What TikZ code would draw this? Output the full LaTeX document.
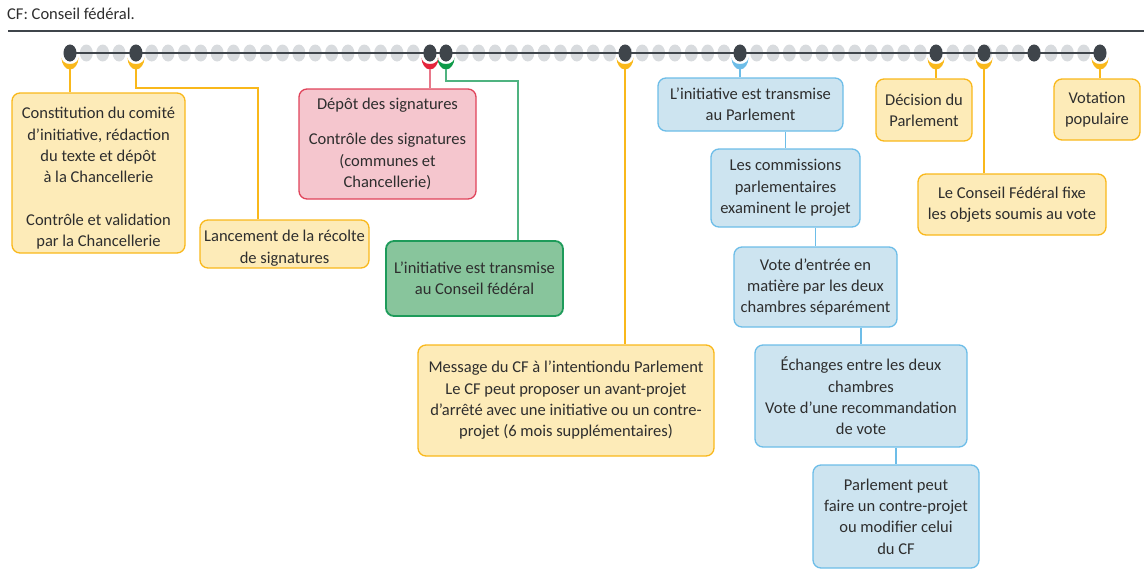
\documentclass[tikz,border=0pt]{standalone}
\usepackage{fontspec}
\setmainfont{Carlito}
\definecolor{txt}{HTML}{2E2E2E}
\definecolor{dark}{HTML}{3F454B}
\definecolor{grayd}{HTML}{D8DBDE}
\definecolor{yb}{HTML}{F9B81B}
\definecolor{yf}{HTML}{FDEBB8}
\definecolor{rb}{HTML}{E0435A}
\definecolor{rc}{HTML}{E5243B}
\definecolor{rl}{HTML}{E8788A}
\definecolor{rf}{HTML}{F5C6CE}
\definecolor{gb}{HTML}{1E9B5A}
\definecolor{gc}{HTML}{0E9A48}
\definecolor{gl}{HTML}{4FB380}
\definecolor{gf}{HTML}{88C59C}
\definecolor{bb}{HTML}{6DBDE8}
\definecolor{bf}{HTML}{CDE4F0}
\newcommand\crescent[2]{\fill[#2] (#1) ++(-8.5,-4.5) arc[start angle=180,end angle=360,x radius=8.5,y radius=12] arc[start angle=0,end angle=-180,x radius=8.5,y radius=6.5] -- cycle;}
\begin{document}
\begin{tikzpicture}[x=1pt,y=1pt,
  box/.style={rounded corners=8pt,line width=1.3pt,align=center,inner sep=0pt,text=txt,
    font=\fontsize{16.5}{21.3}\selectfont},
  ybox/.style={box,draw=yb,fill=yf},
  rbox/.style={box,draw=rb,fill=rf},
  gbox/.style={box,draw=gb,fill=gf,line width=1.8pt},
  bbox/.style={box,draw=bb,fill=bf},
  yconn/.style={draw=yb,line width=1.6pt},
  rconn/.style={draw=rl,line width=1.6pt},
  gconn/.style={draw=gl,line width=1.6pt},
  bconn/.style={draw=bb,line width=1.6pt},
  ]
\useasboundingbox (0,0) rectangle (1144,-579);
% header
\node[anchor=base west,inner sep=0pt,text=txt,font=\fontsize{16.5}{20}\selectfont] (hdr) at (7,-19) {CF: Conseil fédéral.};
\draw[dark,line width=1.2pt] (8,-31) -- (1144,-31);
% timeline dots
\foreach \i in {0,...,63}
  \fill[grayd] ({70+\i*16.3492},-53) ellipse[x radius=6.5,y radius=8.5];
\coordinate (tl0) at (70,-53);
\coordinate (tl1) at (1100,-53);
\draw[dark,line width=1.4pt] (tl0) -- (tl1);
\foreach \n/\x in {d0/70,d4/136,d22/430,d23/446,d34/625,d41/740,d53/936,d56/984,d59/1034,d63/1100}{
  \coordinate (\n) at (\x,-53);
  \fill[dark] (\n) ellipse[x radius=6.5,y radius=8.5];
  \coordinate (k\n) at (\x,-69);
}
\crescent{d0}{yb}
\crescent{d4}{yb}
\crescent{d22}{rc}
\crescent{d23}{gc}
\crescent{d34}{yb}
\crescent{d41}{bb}
\crescent{d53}{yb}
\crescent{d56}{yb}
\crescent{d63}{yb}
% boxes
\node[ybox,minimum width=173pt,minimum height=160pt] (B1) at (98.5,-173)
 {\rule{0pt}{22pt}Constitution du comité\\d’initiative, rédaction\\du texte et dépôt\\à la Chancellerie\\[21.3pt]Contrôle et validation\\par la Chancellerie};
\node[ybox,minimum width=169pt,minimum height=48pt] (B2) at (284.5,-244)
 {\rule{0pt}{20pt}Lancement de la récolte\\de signatures};
\node[rbox,minimum width=177pt,minimum height=110pt] (B3) at (387.5,-144)
 {Dépôt des signatures\\[13.7pt]Contrôle des signatures\\(communes et\\Chancellerie)};
\node[gbox,minimum width=177pt,minimum height=75pt] (B4) at (474.5,-278.5)
 {L’initiative est transmise\\au Conseil fédéral};
\node[ybox,minimum width=296pt,minimum height=111pt] (B5) at (566,-400.5)
 {Message du CF à l’intentiondu Parlement\\Le CF peut proposer un avant-projet\\d’arrêté avec une initiative ou un contre-\\projet (6 mois supplémentaires)};
\node[bbox,minimum width=185pt,minimum height=53pt] (B6) at (750.5,-104.5)
 {L’initiative est transmise\\au Parlement};
\node[bbox,minimum width=149pt,minimum height=78pt] (B7) at (785.5,-188)
 {Les commissions\\parlementaires\\examinent le projet};
\node[bbox,minimum width=163pt,minimum height=80pt] (B8) at (815.5,-287)
 {Vote d’entrée en\\matière par les deux\\chambres séparément};
\node[bbox,minimum width=212pt,minimum height=102pt] (B9) at (861,-396)
 {Échanges entre les deux\\chambres\\Vote d’une recommandation\\de vote};
\node[bbox,minimum width=166pt,minimum height=103pt] (B10) at (896,-516.5)
 {Parlement peut\\faire un contre-projet\\ou modifier celui\\du CF};
\node[ybox,minimum width=96pt,minimum height=62pt] (B11) at (924,-110)
 {Décision du\\Parlement};
\node[ybox,minimum width=188pt,minimum height=61pt] (B12) at (1012,-204.5)
 {Le Conseil Fédéral fixe\\les objets soumis au vote};
\node[ybox,minimum width=86pt,minimum height=61pt] (B13) at (1097,-109.5)
 {Votation\\populaire};
% connectors
\coordinate (t2) at (258,-88);
\coordinate (t4) at (518,-81);
\draw[yconn] (kd0) -- (kd0 |- B1.north);
\draw[yconn] (kd4) |- (t2) -- (t2 |- B2.north);
\draw[rconn] (kd22) -- (kd22 |- B3.north);
\draw[gconn] (kd23) |- (t4) -- (t4 |- B4.north);
\draw[yconn] (kd34) -- (kd34 |- B5.north);
\draw[bconn] (kd41) -- (kd41 |- B6.north);
\draw[bconn] (B7.north |- B6.south) -- (B7.north);
\draw[bconn] (B8.north |- B7.south) -- (B8.north);
\draw[bconn] (B9.north |- B8.south) -- (B9.north);
\draw[bconn] (B10.north |- B9.south) -- (B10.north);
\draw[yconn] (kd53) -- (kd53 |- B11.north);
\draw[yconn] (kd56) -- (kd56 |- B12.north);
\draw[yconn] (kd63) -- (kd63 |- B13.north);
\end{tikzpicture}
\end{document}
